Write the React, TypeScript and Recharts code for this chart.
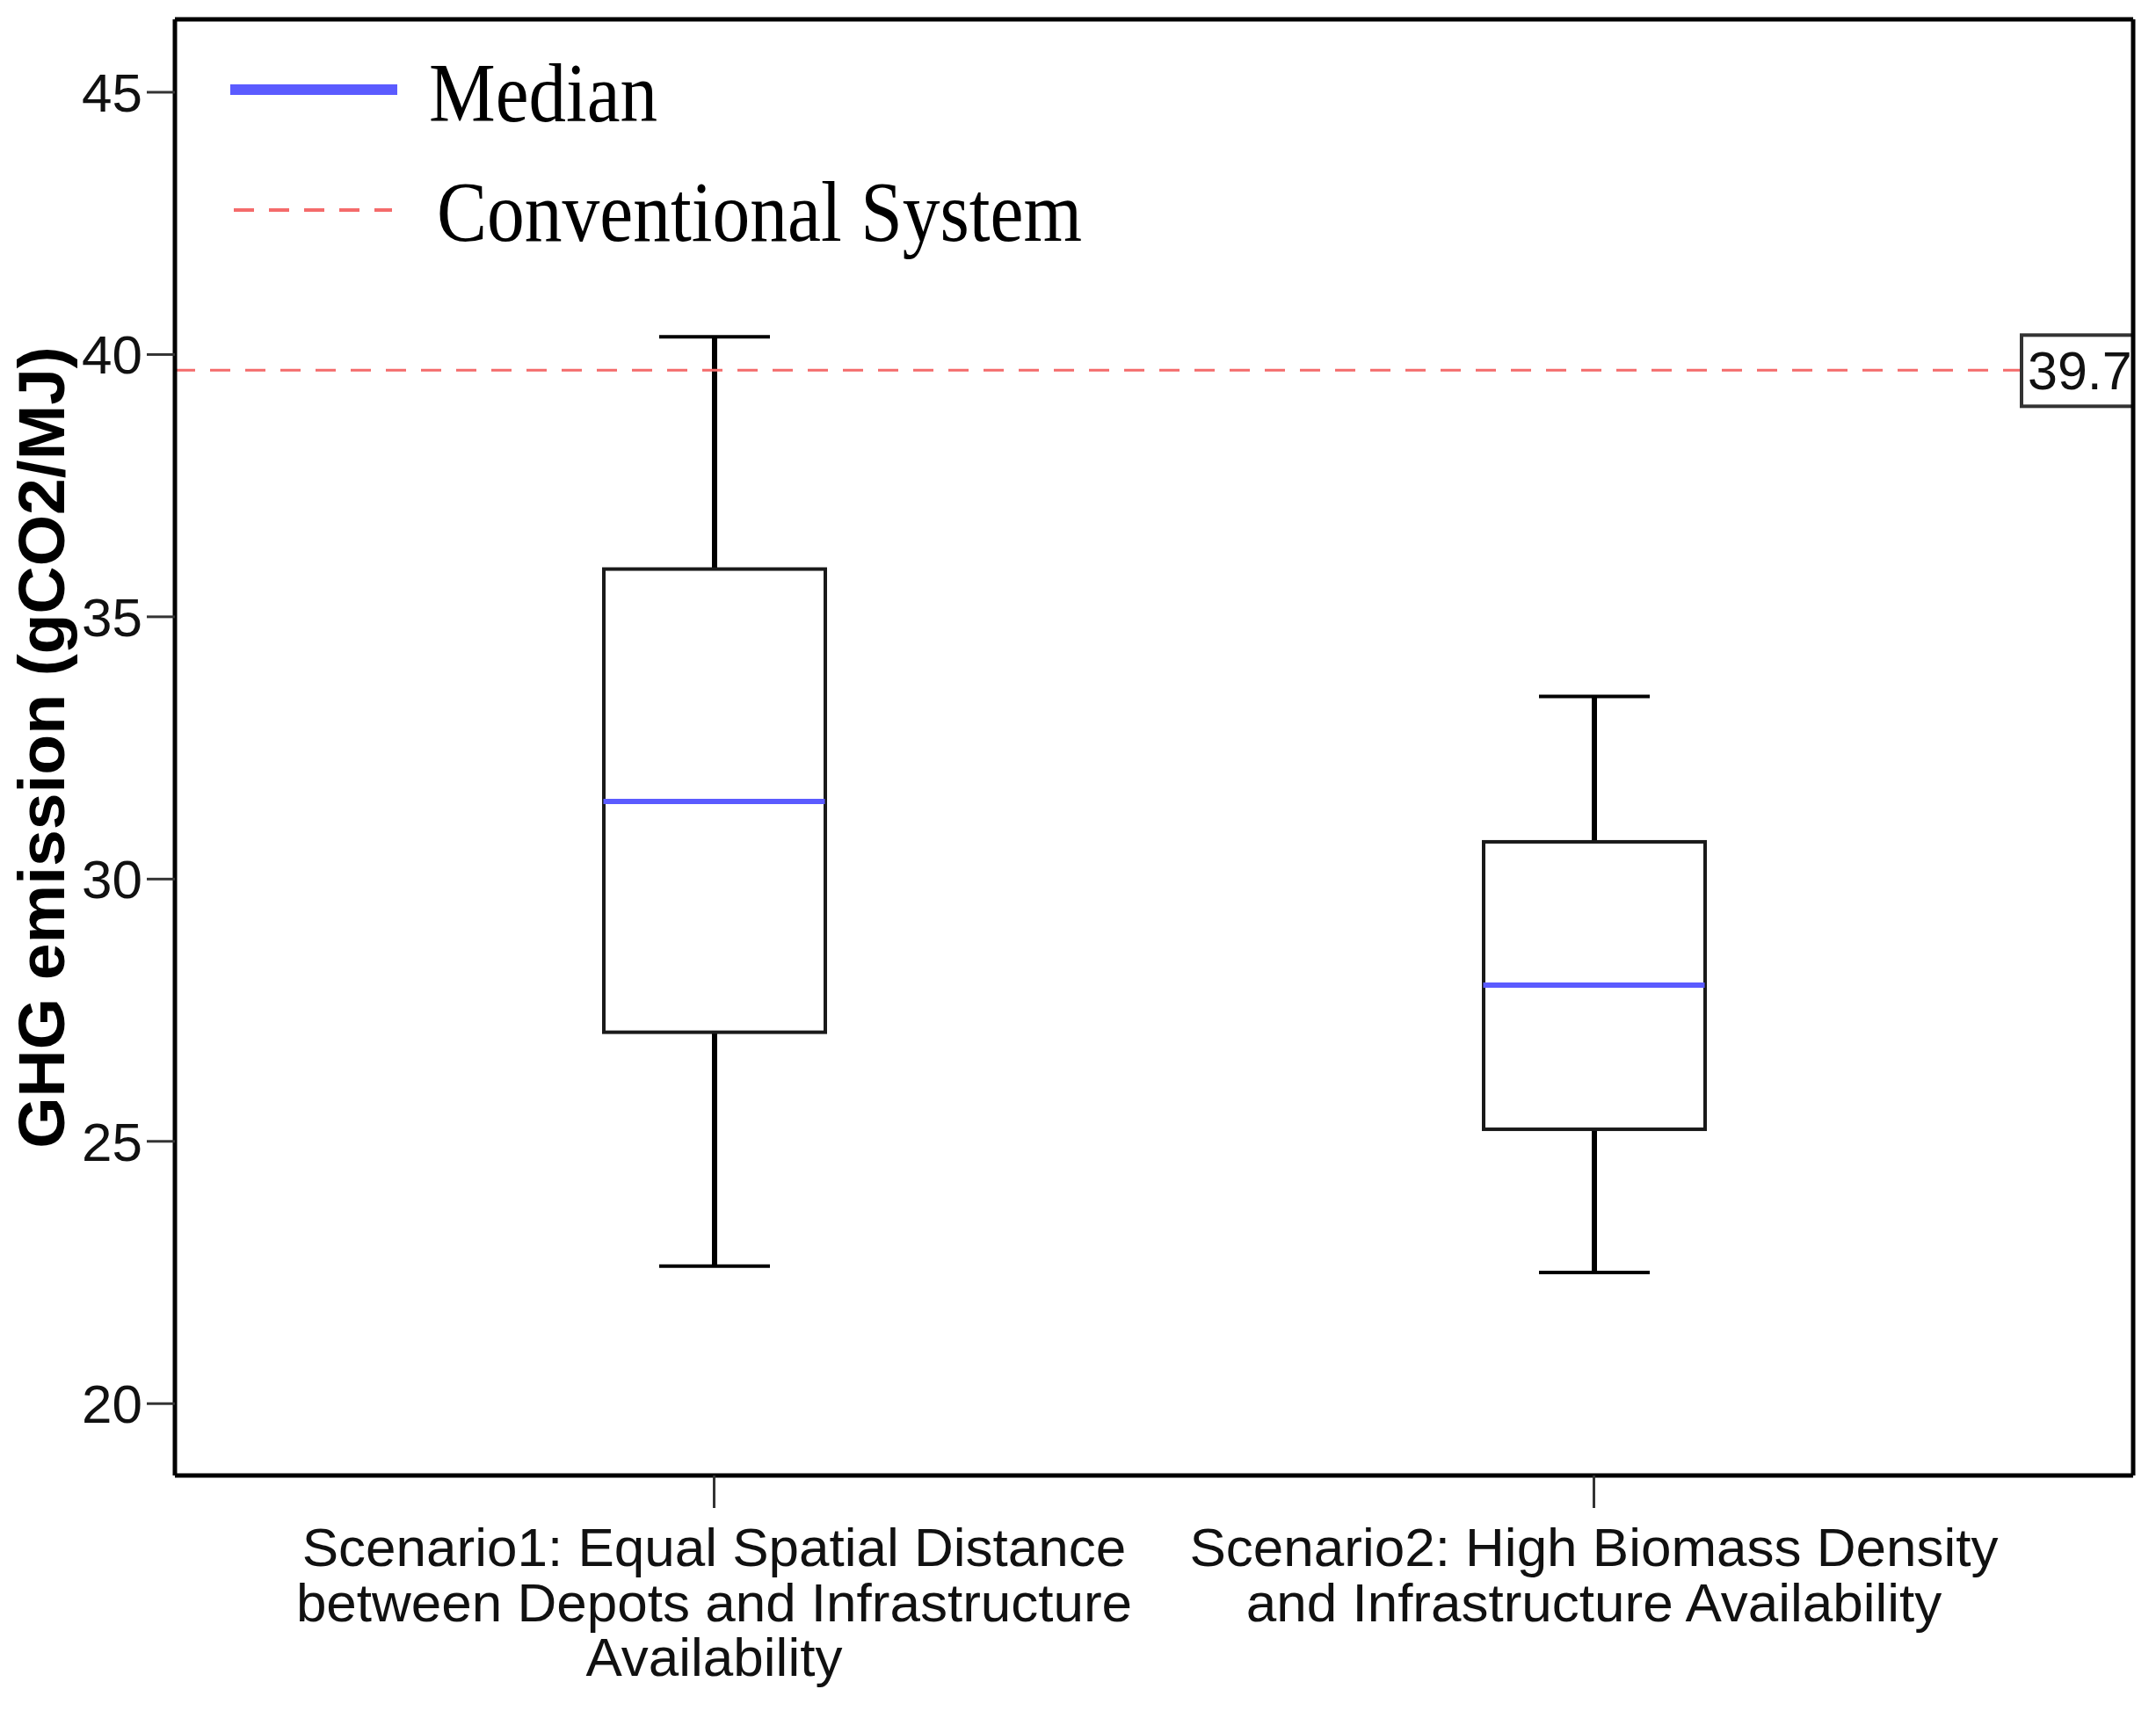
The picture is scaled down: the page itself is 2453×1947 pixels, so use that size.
import { Bar, ComposedChart, ReferenceLine, Scatter, XAxis, YAxis } from "recharts";

const categories = ["Scenario1", "Scenario2"];
const categoryLines = [
  ["Scenario1: Equal Spatial Distance", "between Depots and Infrastructure", "Availability"],
  ["Scenario2: High Biomass Density", "and Infrastructure Availability"],
];
const minValues = [22.62, 22.5];
const q1Values = [27.08, 25.23];
const medianValues = [31.48, 27.98];
const q3Values = [35.91, 30.71];
const maxValues = [40.34, 33.48];
const yTicks = [20, 25, 30, 35, 40, 45];
const conventionalValue = 39.7;

const data = categories.map((name, i) => ({
  name,
  whisker: [minValues[i], maxValues[i]],
  box: [q1Values[i], q3Values[i]],
  median: medianValues[i],
}));

const SANS = "'Liberation Sans', Arial, sans-serif";
const SERIF = "'Liberation Serif', 'Times New Roman', serif";
const BOX_W = 252;
const CAP_W = 126;
const PAD = 113;

function WhiskerShape(props: any) {
  const { x, y, width, height } = props;
  const cx = x + width / 2;
  const top = Math.min(y, y + height);
  const bottom = Math.max(y, y + height);
  return (
    <g>
      <line x1={cx} x2={cx} y1={top} y2={bottom} stroke="#000" strokeWidth={6} />
      <line x1={x} x2={x + width} y1={top} y2={top} stroke="#000" strokeWidth={4} />
      <line x1={x} x2={x + width} y1={bottom} y2={bottom} stroke="#000" strokeWidth={4} />
    </g>
  );
}

function BoxShape(props: any) {
  const { x, y, width, height } = props;
  return (
    <rect
      x={x}
      y={Math.min(y, y + height)}
      width={width}
      height={Math.abs(height)}
      fill="#fff"
      stroke="#1a1a1a"
      strokeWidth={4}
    />
  );
}

function MedianShape(props: any) {
  const { cx, cy } = props;
  return <line x1={cx - BOX_W / 2} x2={cx + BOX_W / 2} y1={cy} y2={cy} stroke="#5b5bff" strokeWidth={6} />;
}

function CategoryTick(props: any) {
  const { x, y, payload } = props;
  const idx = categories.indexOf(payload.value);
  const lines = categoryLines[idx] ?? [payload.value];
  return (
    <text x={x} y={y} textAnchor="middle" fontSize={62} fontFamily={SANS} fill="#111">
      {lines.map((line, i) => (
        <tspan key={i} x={x} dy={i === 0 ? 66 : 62.6}>
          {line}
        </tspan>
      ))}
    </text>
  );
}

function YTitle(props: any) {
  const { viewBox } = props;
  const cx = viewBox.x - 32;
  const cy = viewBox.y + viewBox.height / 2;
  return (
    <text
      transform={`translate(${cx}, ${cy}) rotate(-90)`}
      textAnchor="middle"
      dominantBaseline="central"
      fontSize={75}
      fontWeight="bold"
      fontFamily={SANS}
      fill="#000"
    >
      GHG emission (gCO2/MJ)
    </text>
  );
}

function RefLabel(props: any) {
  const { viewBox } = props;
  const right = viewBox.x + viewBox.width;
  const y = viewBox.y;
  return (
    <g>
      <rect x={right - 127} y={y - 40} width={127} height={81} fill="#fff" stroke="#333" strokeWidth={4} />
      <text x={right - 120} y={y + 22} fontSize={61} fontFamily={SANS} fill="#111">
        {conventionalValue}
      </text>
    </g>
  );
}

export default function App() {
  return (
    <div style={{ position: "relative", width: 2453, height: 1947, background: "#fff" }}>
      <style>{`body{margin:0}`}</style>
      <ComposedChart width={2453} height={1947} data={data} margin={{ top: 21, right: 25, bottom: 0, left: 79 }}>
        <XAxis
          xAxisId="main"
          dataKey="name"
          height={268}
          padding={{ left: PAD, right: PAD }}
          tickSize={37}
          tickMargin={0}
          tick={<CategoryTick />}
          tickLine={{ stroke: "#333", strokeWidth: 3 }}
          axisLine={{ stroke: "#000", strokeWidth: 5 }}
        />
        <XAxis xAxisId="box" dataKey="name" hide height={0} padding={{ left: PAD, right: PAD }} />
        <XAxis
          xAxisId="top"
          dataKey="name"
          orientation="top"
          height={1}
          tick={false}
          tickLine={false}
          axisLine={{ stroke: "#000", strokeWidth: 5 }}
        />
        <YAxis
          yAxisId="left"
          domain={[18.63, 46.39]}
          ticks={yTicks}
          allowDataOverflow
          width={120}
          tickSize={32}
          tickMargin={5}
          tick={{ fontSize: 62, fontFamily: SANS, fill: "#111" }}
          tickLine={{ stroke: "#333", strokeWidth: 3 }}
          axisLine={{ stroke: "#000", strokeWidth: 5 }}
          label={{ content: <YTitle /> }}
        />
        <YAxis
          yAxisId="right"
          orientation="right"
          domain={[18.63, 46.39]}
          allowDataOverflow
          width={1}
          tick={false}
          tickLine={false}
          axisLine={{ stroke: "#000", strokeWidth: 5 }}
        />
        <ReferenceLine
          xAxisId="main"
          yAxisId="left"
          y={conventionalValue}
          stroke="#f46b6b"
          strokeWidth={3}
          strokeDasharray="23 17"
          label={{ content: <RefLabel /> }}
        />
        <Bar
          xAxisId="main"
          yAxisId="left"
          dataKey="whisker"
          barSize={CAP_W}
          shape={<WhiskerShape />}
          isAnimationActive={false}
        />
        <Bar
          xAxisId="box"
          yAxisId="left"
          dataKey="box"
          barSize={BOX_W}
          shape={<BoxShape />}
          isAnimationActive={false}
        />
        <Scatter
          xAxisId="main"
          yAxisId="left"
          dataKey="median"
          shape={<MedianShape />}
          isAnimationActive={false}
        />
      </ComposedChart>
      <svg
        width={1400}
        height={360}
        style={{ position: "absolute", left: 0, top: 0, pointerEvents: "none" }}
      >
        <line x1={262} x2={452} y1={102} y2={102} stroke="#5b5bff" strokeWidth={12} />
        <text x={488} y={138} fontSize={96} fontFamily={SERIF} fill="#000" textLength={260} lengthAdjust="spacingAndGlyphs">
          Median
        </text>
        <line x1={266} x2={446} y1={239} y2={239} stroke="#f46b6b" strokeWidth={4} strokeDasharray="23 17" />
        <text x={497} y={274} fontSize={98} fontFamily={SERIF} fill="#000" textLength={734} lengthAdjust="spacingAndGlyphs">
          Conventional System
        </text>
      </svg>
    </div>
  );
}
